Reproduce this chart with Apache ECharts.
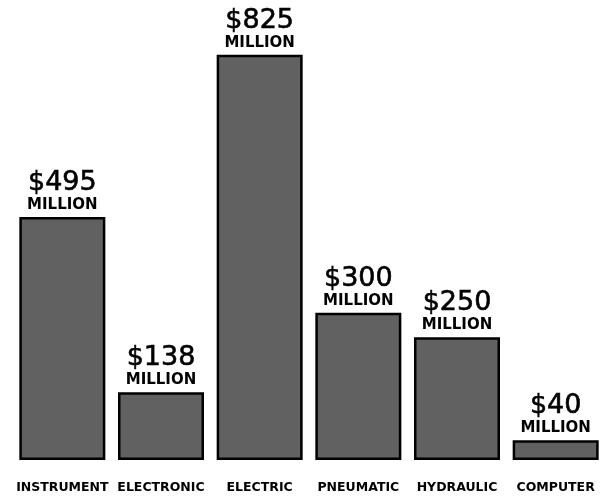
<!DOCTYPE html>
<html>
<head>
<meta charset="utf-8">
<script src="https://cdn.jsdelivr.net/npm/echarts@6/dist/echarts.min.js"></script>
<style>
  html, body { margin: 0; padding: 0; background: #ffffff; }
  #chart { width: 606px; height: 501px; }
</style>
</head>
<body>
<div id="chart"></div>
<script>
// Market size by control type, in millions of dollars
const categories = ['INSTRUMENT', 'ELECTRONIC', 'ELECTRIC', 'PNEUMATIC', 'HYDRAULIC', 'COMPUTER'];
const values = [495, 138, 825, 300, 250, 40];
const unitLabel = 'MILLION';

const chart = echarts.init(document.getElementById('chart'), null, { renderer: 'canvas' });

chart.setOption({
  backgroundColor: '#ffffff',
  animation: false,
  grid: { left: 13, right: 1, top: 18, bottom: 41 },
  xAxis: {
    type: 'category',
    data: categories,
    axisLine: { show: false },
    axisTick: { show: false },
    axisLabel: {
      interval: 0,
      margin: 21,
      color: '#000000',
      fontFamily: 'DejaVu Sans',
      fontWeight: 'bold',
      fontSize: 12.5
    }
  },
  yAxis: {
    type: 'value',
    min: 0,
    max: 900,
    show: false,
    splitLine: { show: false }
  },
  series: [{
    type: 'bar',
    data: values,
    barWidth: 86,
    itemStyle: {
      color: '#616161',
      borderColor: '#000000',
      borderWidth: 2.5
    },
    label: {
      show: true,
      position: 'top',
      distance: 4,
      formatter: p => '{v|$' + p.value + '}\n{u|' + unitLabel + '}',
      rich: {
        v: {
          fontFamily: 'DejaVu Sans',
          fontSize: 27,
          color: '#000000',
          align: 'center',
          lineHeight: 28,
          textBorderColor: '#000000',
          textBorderWidth: 0.6
        },
        u: {
          fontFamily: 'DejaVu Sans',
          fontWeight: 'bold',
          fontSize: 15,
          color: '#000000',
          align: 'center',
          lineHeight: 16
        }
      }
    }
  }]
});
</script>
</body>
</html>
